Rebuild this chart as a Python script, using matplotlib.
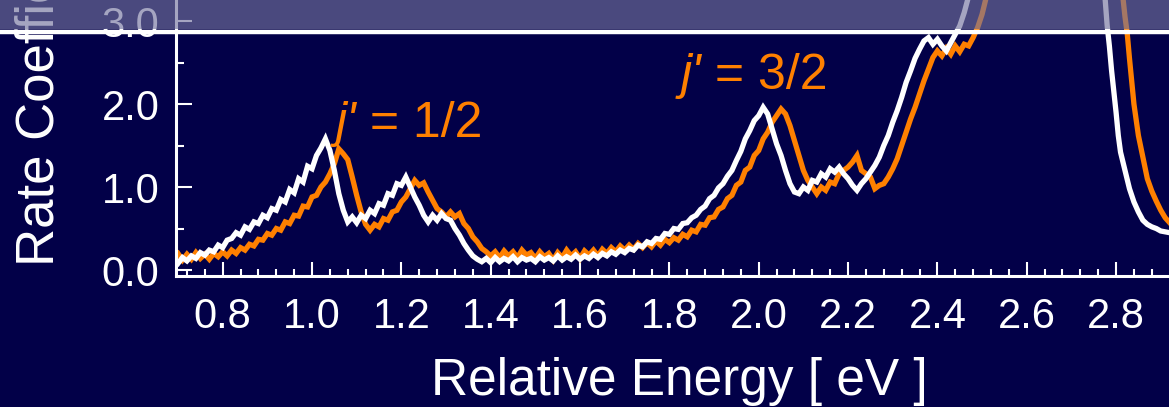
import numpy as np
import matplotlib
matplotlib.use("Agg")
import matplotlib.pyplot as plt
from matplotlib.patches import Rectangle
from matplotlib.lines import Line2D
from matplotlib.ticker import MultipleLocator

plt.rcParams["font.family"] = ["Liberation Sans", "DejaVu Sans"]

# rate coefficient vs relative energy, two measurements (white / orange)
e_white = np.round(np.arange(0.70, 2.475, 0.01), 2).tolist()
k_white = [
    0.08, 0.15, 0.11, 0.17, 0.14, 0.21, 0.18, 0.24, 0.22, 0.30,
    0.27, 0.36, 0.38, 0.45, 0.42, 0.52, 0.49, 0.58, 0.56, 0.66,
    0.63, 0.74, 0.72, 0.85, 0.82, 0.97, 0.93, 1.10, 1.06, 1.25,
    1.22, 1.38, 1.47, 1.58, 1.44, 1.20, 0.92, 0.72, 0.58, 0.64,
    0.57, 0.66, 0.62, 0.72, 0.68, 0.80, 0.78, 0.92, 0.90, 1.04,
    1.02, 1.12, 1.00, 0.88, 0.78, 0.66, 0.58, 0.66, 0.60, 0.68,
    0.62, 0.60, 0.50, 0.42, 0.32, 0.24, 0.17, 0.13, 0.10, 0.14,
    0.09, 0.15, 0.10, 0.14, 0.11, 0.16, 0.10, 0.15, 0.12, 0.14,
    0.10, 0.16, 0.12, 0.15, 0.11, 0.17, 0.12, 0.16, 0.13, 0.18,
    0.13, 0.17, 0.14, 0.19, 0.15, 0.20, 0.17, 0.22, 0.19, 0.24,
    0.21, 0.26, 0.24, 0.30, 0.28, 0.34, 0.32, 0.38, 0.37, 0.44,
    0.43, 0.50, 0.49, 0.56, 0.57, 0.63, 0.66, 0.73, 0.77, 0.86,
    0.90, 0.99, 1.04, 1.13, 1.20, 1.32, 1.43, 1.58, 1.68, 1.80,
    1.86, 1.96, 1.88, 1.70, 1.52, 1.38, 1.20, 1.04, 0.94, 0.92,
    1.00, 0.96, 1.08, 1.06, 1.16, 1.12, 1.22, 1.18, 1.24, 1.16,
    1.10, 1.02, 0.96, 1.04, 1.10, 1.18, 1.26, 1.36, 1.50, 1.62,
    1.78, 1.92, 2.08, 2.26, 2.40, 2.55, 2.66, 2.76, 2.80, 2.72,
    2.78, 2.70, 2.64, 2.74, 2.84, 2.94, 3.10, 3.30,
]
# falling edge of the big resonance
e_white_hi = [2.775, 2.78, 2.785, 2.79, 2.795, 2.80, 2.805, 2.81, 2.82, 2.83,
              2.84, 2.85, 2.86, 2.87, 2.88, 2.89, 2.90, 2.91, 2.92]
k_white_hi = [3.30, 2.95, 2.70, 2.40, 2.15, 1.90, 1.62, 1.42, 1.20, 0.98,
              0.82, 0.70, 0.60, 0.55, 0.52, 0.50, 0.47, 0.46, 0.45]

e_orange = np.round(np.arange(0.70, 2.515, 0.01), 2).tolist()
k_orange = [
    0.20, 0.12, 0.19, 0.13, 0.21, 0.14, 0.19, 0.13, 0.20, 0.16,
    0.22, 0.17, 0.24, 0.20, 0.27, 0.24, 0.31, 0.29, 0.37, 0.36,
    0.44, 0.42, 0.50, 0.48, 0.58, 0.56, 0.66, 0.65, 0.77, 0.76,
    0.88, 0.90, 1.00, 1.06, 1.16, 1.28, 1.46, 1.40, 1.33, 1.12,
    0.90, 0.70, 0.55, 0.48, 0.55, 0.52, 0.62, 0.60, 0.70, 0.72,
    0.82, 0.88, 0.98, 1.08, 1.02, 1.05, 0.94, 0.84, 0.74, 0.70,
    0.64, 0.70, 0.64, 0.68, 0.56, 0.50, 0.40, 0.34, 0.26, 0.22,
    0.17, 0.22, 0.15, 0.23, 0.17, 0.22, 0.15, 0.24, 0.18, 0.21,
    0.14, 0.22, 0.16, 0.20, 0.12, 0.21, 0.15, 0.24, 0.17, 0.22,
    0.14, 0.23, 0.18, 0.24, 0.17, 0.25, 0.20, 0.27, 0.22, 0.29,
    0.24, 0.30, 0.25, 0.32, 0.27, 0.33, 0.28, 0.35, 0.30, 0.37,
    0.33, 0.39, 0.36, 0.43, 0.40, 0.48, 0.46, 0.55, 0.54, 0.63,
    0.64, 0.73, 0.76, 0.86, 0.90, 1.02, 1.06, 1.20, 1.24, 1.38,
    1.44, 1.58, 1.66, 1.78, 1.86, 1.94, 1.88, 1.74, 1.56, 1.38,
    1.20, 1.08, 1.00, 0.92, 1.00, 0.96, 1.06, 1.04, 1.16, 1.20,
    1.24, 1.30, 1.38, 1.20, 1.16, 1.12, 0.98, 1.02, 1.04, 1.12,
    1.22, 1.34, 1.50, 1.66, 1.82, 1.96, 2.12, 2.28, 2.42, 2.56,
    2.64, 2.58, 2.67, 2.60, 2.70, 2.63, 2.72, 2.70, 2.80, 2.92,
    3.08, 3.30,
]
e_orange_hi = [2.815, 2.82, 2.825, 2.83, 2.835, 2.84, 2.85, 2.86, 2.87, 2.88,
               2.89, 2.90, 2.91, 2.92]
k_orange_hi = [3.30, 3.05, 2.85, 2.55, 2.28, 2.00, 1.62, 1.36, 1.10, 0.95,
               0.83, 0.72, 0.63, 0.57]

labels = [("1/2", 1.052, 1.60), ("3/2", 1.824, 2.18)]

bg = "#020048"
orange = "#ff8000"

fig = plt.figure(figsize=(11.69, 4.07), dpi=100, facecolor=bg)
ax = fig.add_axes([176 / 1169, 131 / 407, 1 - 176 / 1169, 276 / 407])
ax.set_facecolor(bg)

ax.plot(e_orange + [np.nan] + e_orange_hi, k_orange + [np.nan] + k_orange_hi,
        color=orange, lw=3.8, solid_joinstyle="miter", zorder=2)
ax.plot(e_white + [np.nan] + e_white_hi, k_white + [np.nan] + k_white_hi,
        color="white", lw=3.8, solid_joinstyle="miter", zorder=3)

ax.set_xlim(0.6955, 2.9185)
ax.set_ylim(-0.072, 3.253)

ax.xaxis.set_major_locator(MultipleLocator(0.2))
ax.xaxis.set_minor_locator(MultipleLocator(0.04))
ax.yaxis.set_major_locator(MultipleLocator(1.0))
ax.yaxis.set_minor_locator(MultipleLocator(0.5))
ax.xaxis.set_major_formatter(lambda v, p: f"{v:.1f}")
ax.yaxis.set_major_formatter(lambda v, p: f"{v:.1f}")

for s in ["top", "right"]:
    ax.spines[s].set_visible(False)
for s in ["left", "bottom"]:
    ax.spines[s].set_color("white")
    ax.spines[s].set_linewidth(2.2)

ax.tick_params(axis="x", which="major", direction="in", length=10, width=1.5,
               colors="white", labelsize=30, pad=15)
ax.tick_params(axis="x", which="minor", direction="in", length=5, width=1.5,
               colors="white")
ax.tick_params(axis="y", which="major", direction="in", length=11.5, width=1.5,
               colors="white", labelsize=30, pad=12)
ax.tick_params(axis="y", which="minor", direction="in", length=6, width=1.5,
               colors="white")

# peak labels: italic j' followed by upright text
for frac, ex, ky in labels:
    t1 = ax.text(ex, ky, "j'", color=orange, fontsize=36, style="italic",
                 ha="left", va="baseline", zorder=5)
    ax.annotate(" = " + frac, xy=(1, 0), xycoords=t1, color=orange,
                fontsize=36, ha="left", va="bottom", zorder=5)

fig.text(431 / 1169, 1 - 395 / 407, "Relative Energy [ eV ]", color="white",
         fontsize=37, ha="left", va="baseline")
fig.text(53 / 1169, 1 - 266 / 407, "Rate Coefficient", color="white",
         fontsize=38, rotation=90, rotation_mode="anchor",
         ha="left", va="baseline")

# translucent title bar across the top with a white rule under it
fig.add_artist(Rectangle((0, 1 - 29 / 407), 1, 29 / 407, transform=fig.transFigure,
                         facecolor=(115 / 255, 115 / 255, 158 / 255), alpha=0.64,
                         edgecolor="none", zorder=10))
fig.add_artist(Line2D([0, 1], [1 - 31.5 / 407] * 2, transform=fig.transFigure,
                      color="white", lw=3.2, zorder=11))

fig.savefig("out.png", dpi=100, facecolor=bg)
